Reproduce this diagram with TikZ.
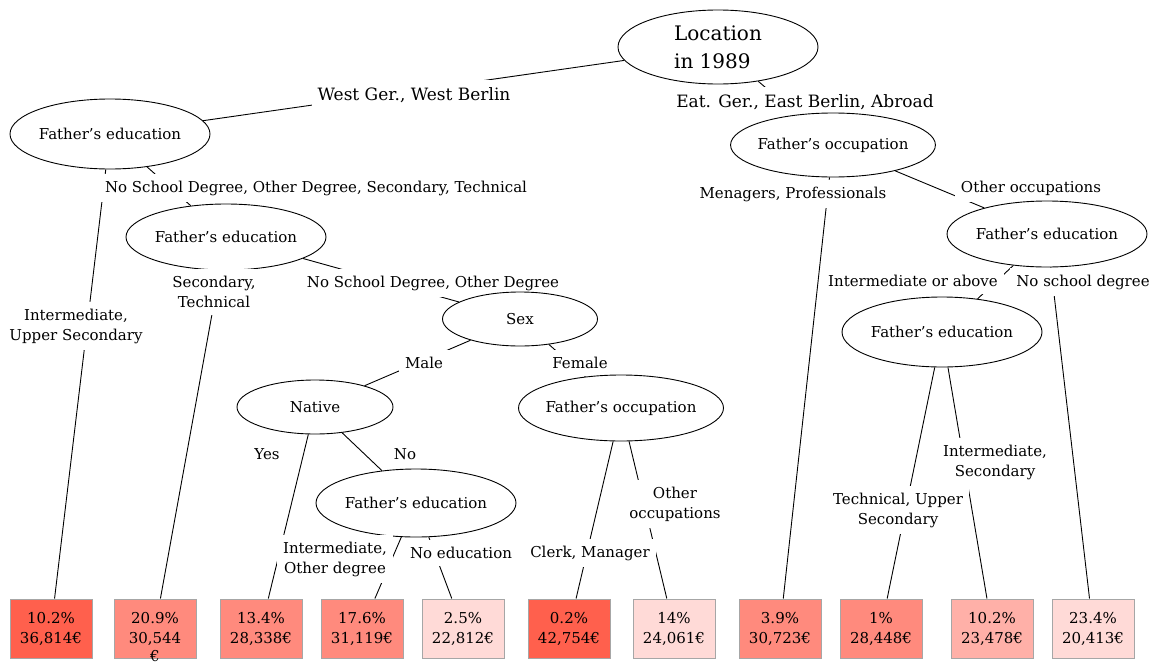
\documentclass[tikz,border=0pt]{standalone}
\usepackage{fontspec}
\setmainfont{DejaVu Serif}
\usetikzlibrary{shapes.geometric}
\pgfdeclarelayer{back}
\pgfsetlayers{back,main}
\definecolor{leafdark}{HTML}{FF604D}
\definecolor{leafmid}{HTML}{FF8A7D}
\definecolor{leaflight}{HTML}{FFB0A8}
\definecolor{leafpale}{HTML}{FFDAD7}
\begin{document}
\begin{tikzpicture}[x=1pt,y=-1pt,
    split/.style={ellipse, draw, fill=white, line width=0.9pt, inner xsep=-3pt, inner ysep=0pt,
      minimum width=200pt, minimum height=66pt, font=\fontsize{15}{20}\selectfont},
    leaf/.style={draw=gray!70, line width=1pt, minimum width=82pt, minimum height=59pt,
      inner sep=0pt, align=center, font=\fontsize{15}{20}\selectfont},
    cond/.style={fill=white, inner xsep=6pt, inner ysep=7pt, align=center,
      font=\fontsize{15}{20}\selectfont},
    bigcond/.style={cond, font=\fontsize{17}{22}\selectfont},
    edge/.style={draw, line width=0.9pt}]
\useasboundingbox (0,0) rectangle (1155,664);

\node[split, minimum height=74pt, align=left, font=\fontsize{20}{28}\selectfont] (root) at (718,47) {Location\\in 1989};
\node[bigcond] (cwest) at (414,95) {West Ger., West Berlin};
\node[bigcond] (ceast) at (805,102) {Eat. Ger., East Berlin, Abroad};

\node[split, minimum height=70pt] (fe1) at (110,134) {Father’s education};
\node[split, minimum height=64pt] (fo1) at (833,145) {Father’s occupation};
\node[cond] (cnosch) at (316,188) {No School Degree, Other Degree, Secondary, Technical};
\node[cond] (cintup) at (76,326) {Intermediate,\\Upper Secondary};
\node[cond] (cmanag) at (793,194) {Menagers, Professionals};
\node[cond] (cothers) at (1031,188) {Other occupations};

\node[leaf, fill=leafdark] (l1) at (51,628.5) {10.2\%\\36,814€};
\node[split] (fe2) at (226,237) {Father’s education};
\node[leaf, fill=leafmid] (l8) at (780,628.5) {3.9\%\\30,723€};
\node[split] (fe4) at (1047,234) {Father’s education};
\node[cond] (csectech) at (214,292) {Secondary,\\Technical};
\node[cond] (cnoother) at (433,283) {No School Degree, Other Degree};
\node[cond] (cintab) at (913,281) {Intermediate or above};
\node[cond] (cnodeg) at (1083,282) {No school degree};

\node[leaf, fill=leafmid] (l2) at (155,628.5) {20.9\%\\30,544};
\node[anchor=north, inner sep=0pt, font=\fontsize{15}{20}\selectfont] (eur) at ([yshift=8pt]l2.south) {€};
\node[split, minimum width=155pt, minimum height=54pt] (sex) at (520,319) {Sex};
\node[split, minimum height=70pt] (fe5) at (942,332) {Father’s education};
\node[leaf, fill=leafpale] (l11) at (1093,628.5) {23.4\%\\20,413€};
\node[cond] (cmale) at (424,363) {Male};
\node[cond] (cfemale) at (580,363) {Female};
\node[cond] (ctechup) at (898,510) {Technical, Upper\\Secondary};
\node[cond] (cintsec) at (995,462) {Intermediate,\\Secondary};

\node[split, minimum width=156pt, minimum height=54pt] (native) at (315,407) {Native};
\node[split, minimum width=205pt] (fo2) at (621,408) {Father’s occupation};
\node[leaf, fill=leafmid] (l9) at (881,628.5) {1\%\\28,448€};
\node[leaf, fill=leaflight] (l10) at (992,628.5) {10.2\%\\23,478€};
\node[cond] (cyes) at (267,454) {Yes};
\node[cond] (cno) at (405,454) {No};
\node[cond] (cclerk) at (590,553) {Clerk, Manager};
\node[cond] (cothocc) at (675,504) {Other\\occupations};

\node[leaf, fill=leafmid] (l3) at (261,628.5) {13.4\%\\28,338€};
\node[split, minimum height=68pt] (fe3) at (416,503) {Father’s education};
\node[leaf, fill=leafdark] (l6) at (569,628.5) {0.2\%\\42,754€};
\node[leaf, fill=leafpale] (l7) at (674,628.5) {14\%\\24,061€};
\node[cond] (cintoth) at (335,559) {Intermediate,\\Other degree};
\node[cond] (cnoedu) at (461,553) {No education};

\node[leaf, fill=leafmid] (l4) at (362,628.5) {17.6\%\\31,119€};
\node[leaf, fill=leafpale] (l5) at (463,628.5) {2.5\%\\22,812€};

\begin{pgfonlayer}{back}
\draw[edge] (root) -- (fe1);
\draw[edge] (root) -- (fo1);
\draw[edge] (fe1) -- (l1);
\draw[edge] (fe1) -- (fe2);
\draw[edge] (fe2) -- (l2);
\draw[edge] (fe2) -- (sex);
\draw[edge] (sex) -- (native);
\draw[edge] (sex) -- (fo2);
\draw[edge] (native) -- (l3);
\draw[edge] (native) -- (fe3);
\draw[edge] (fe3) -- (l4);
\draw[edge] (fe3) -- (l5);
\draw[edge] (fo2) -- (l6);
\draw[edge] (fo2) -- (l7);
\draw[edge] (fo1) -- (l8);
\draw[edge] (fo1) -- (fe4);
\draw[edge] (fe4) -- (fe5);
\draw[edge] (fe4) -- (l11);
\draw[edge] (fe5) -- (l9);
\draw[edge] (fe5) -- (l10);
\end{pgfonlayer}
\end{tikzpicture}
\end{document}
